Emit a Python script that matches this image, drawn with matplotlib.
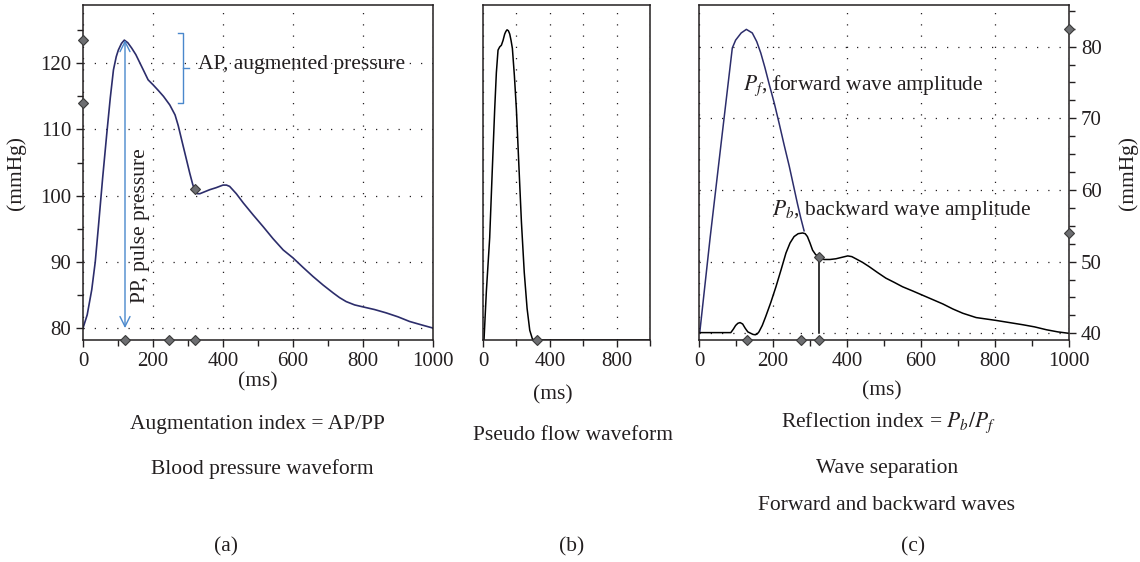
import matplotlib
matplotlib.use("Agg")
import matplotlib.pyplot as plt
from matplotlib.ticker import MultipleLocator, FixedLocator

plt.rcParams["font.family"] = ["Liberation Serif", "DejaVu Serif"]
plt.rcParams["mathtext.fontset"] = "stix"

# (a) blood pressure waveform, ms / mmHg
bp_t = [0, 12, 25, 35, 44, 56, 68, 78, 87, 95, 101, 110, 118, 128, 139, 151, 163,
        175, 186, 201, 215, 230, 248, 263, 272, 282, 294, 305, 313, 320, 327, 334,
        348, 362, 380, 400, 410, 419, 438, 458, 486, 515, 543, 572, 600, 628, 657,
        686, 715, 733, 752, 776, 800, 833, 866, 900, 933, 966, 1000]
bp_p = [80.0, 82.0, 85.8, 90.0, 95.3, 102.6, 109.4, 114.8, 119.0, 121.0, 122.0,
        123.0, 123.5, 123.1, 122.3, 121.3, 120.0, 118.7, 117.5, 116.7, 115.9, 115.0,
        113.7, 112.2, 110.6, 108.4, 105.8, 103.4, 101.8, 100.6, 100.3, 100.3, 100.6,
        100.9, 101.2, 101.6, 101.6, 101.4, 100.3, 98.9, 97.1, 95.3, 93.5, 91.8, 90.6,
        89.2, 87.8, 86.5, 85.3, 84.6, 84.0, 83.5, 83.2, 82.8, 82.3, 81.7, 81.0, 80.5,
        80.0]
bp_time_marks = [120, 245, 320]
bp_press_marks = [123.5, 114.0]
bp_notch = (320, 101.0)

# (b) pseudo flow waveform, ms / arbitrary units
flow_t = [0, 6, 20, 40, 55, 70, 80, 90, 100, 110, 120, 130, 137, 144, 152, 160,
          168, 176, 188, 200, 215, 230, 247, 264, 280, 296, 310, 324, 1000]
flow_q = [0.0, 0.0, 0.15, 0.317, 0.52, 0.716, 0.83, 0.90, 0.91, 0.915, 0.93, 0.95,
          0.958, 0.963, 0.96, 0.95, 0.93, 0.905, 0.82, 0.716, 0.54, 0.367, 0.21,
          0.098, 0.03, 0.003, 0.0, 0.0, 0.0]
flow_end = 322

# (c) wave separation, ms / mmHg
fwd_t = [2, 30, 60, 90, 99, 114, 128, 144, 156, 167, 178, 190, 204, 217, 230, 244,
         255, 266, 275, 284]
fwd_p = [40.1, 53.3, 66.6, 79.8, 80.9, 81.9, 82.4, 81.9, 80.7, 79.1, 77.1, 74.7,
         72.0, 69.2, 66.3, 63.3, 60.7, 58.1, 56.1, 54.3]
bwd_t = [0, 86, 93, 99, 105, 111, 118, 125, 132, 140, 146, 152, 157, 162, 171, 180,
         194, 208, 222, 235, 246, 257, 268, 280, 287, 293, 300, 307, 315, 323, 330,
         338, 354, 370, 386, 402, 413, 424, 442, 460, 482, 505, 528, 550, 578, 605,
         632, 659, 686, 713, 731, 749, 776, 803, 839, 875, 907, 939, 970, 1000]
bwd_p = [40.1, 40.1, 40.6, 41.1, 41.4, 41.5, 41.3, 40.7, 40.2, 40.0, 39.85, 39.8,
         39.9, 40.2, 41.1, 42.3, 44.3, 46.5, 48.9, 51.2, 52.6, 53.5, 53.9, 54.0, 53.9,
         53.5, 52.6, 51.6, 51.0, 50.7, 50.4, 50.3, 50.3, 50.4, 50.6, 50.8, 50.7, 50.4,
         49.9, 49.3, 48.5, 47.7, 47.1, 46.5, 45.9, 45.3, 44.7, 44.1, 43.4, 42.8, 42.5,
         42.2, 42.0, 41.8, 41.5, 41.2, 40.9, 40.5, 40.2, 40.0]
ws_time_marks = [131, 275, 323]
ws_press_marks = [82.4, 54.0]
ws_split = (323, 50.7)

W, H = 1140, 562
NAVY = "#2c2d6b"
BLUE = "#4a88cc"
INK = "#231f20"
DIAMOND = dict(marker="D", markersize=5.5, markerfacecolor="#6d6e71",
               markeredgecolor="#3a3a3a", markeredgewidth=0.8, linestyle="none",
               clip_on=False, zorder=5)
GRID = dict(color=INK, linestyle=(0, (1, 8)), linewidth=0.9)
FS = 15.5
TFS = 15

fig = plt.figure(figsize=(W / 100, H / 100), dpi=100)


def px_axes(x0, x1, y0, y1):
    return fig.add_axes([x0 / W, 1 - y1 / H, (x1 - x0) / W, (y1 - y0) / H])


def caption(x, y, s, **kw):
    fig.text(x / W, 1 - y / H, s, ha="center", va="center", fontsize=FS, color=INK, **kw)


def style(ax):
    for sp in ax.spines.values():
        sp.set_linewidth(1.1)
        sp.set_color(INK)
    ax.tick_params(which="both", direction="out", colors=INK, labelsize=TFS, width=1.0)
    ax.tick_params(which="major", length=5)
    ax.tick_params(which="minor", length=4)


# ---- (a)
ax = px_axes(83, 433, 5, 340)
style(ax)
ax.plot(bp_t, bp_p, color=NAVY, lw=1.2)
ax.set_xlim(0, 1000)
ax.set_ylim(78.2, 128.8)
ax.xaxis.set_major_locator(MultipleLocator(200))
ax.xaxis.set_minor_locator(MultipleLocator(100))
ax.yaxis.set_major_locator(MultipleLocator(10))
ax.yaxis.set_minor_locator(MultipleLocator(5))
ax.grid(True, which="major", **GRID)
ax.plot(bp_time_marks, [78.2] * len(bp_time_marks), **DIAMOND)
ax.plot([0] * len(bp_press_marks), bp_press_marks, **DIAMOND)
ax.plot(*bp_notch, **DIAMOND)
ax.annotate("", xy=(bp_time_marks[0], min(bp_p)), xytext=(bp_time_marks[0], max(bp_p)),
            arrowprops=dict(arrowstyle="<->", color=BLUE, lw=1.0, mutation_scale=18,
                            shrinkA=0, shrinkB=0))
ax.text(bp_time_marks[0] + 45, 95.5, "PP, pulse pressure", rotation=90, ha="center",
        va="center", fontsize=FS, color=INK)
top, bot = bp_press_marks[0] + 1.0, bp_press_marks[1]
bx = 286
ax.plot([bx - 14, bx, bx, bx - 14], [top, top, bot, bot], color=BLUE, lw=1.0)
ax.plot([bx, bx + 18], [(top + bot) / 2] * 2, color=BLUE, lw=1.0)
ax.text(bx + 44, 119.8, "AP, augmented pressure", ha="left", va="center",
        fontsize=FS, color=INK)
ax.set_ylabel("(mmHg)", fontsize=FS, color=INK, labelpad=10)
caption(258, 382, "(ms)")
caption(257, 425, "Augmentation index = AP/PP")
caption(262, 469, "Blood pressure waveform")
caption(226, 547, "(a)")

# ---- (b)
bx_ax = px_axes(483, 650, 5, 340)
style(bx_ax)
bx_ax.plot(flow_t, flow_q, color="black", lw=1.1)
bx_ax.set_xlim(0, 1000)
bx_ax.set_ylim(0, 1.04)
bx_ax.xaxis.set_major_locator(FixedLocator([0, 400, 800]))
bx_ax.xaxis.set_minor_locator(FixedLocator([200, 600, 1000]))
bx_ax.set_yticks([])
bx_ax.grid(True, which="both", axis="x", **GRID)
bx_ax.plot(flow_end, 0, **DIAMOND)
caption(553, 395, "(ms)")
caption(573, 435, "Pseudo flow waveform")
caption(572, 547, "(b)")

# ---- (c)
cx = px_axes(699, 1069, 5, 340)
style(cx)
cx.plot(fwd_t, fwd_p, color=NAVY, lw=1.1)
cx.plot(bwd_t, bwd_p, color="black", lw=1.1)
cx.plot([ws_split[0]] * 2, [40, ws_split[1]], color="black", lw=1.1)
cx.set_xlim(0, 1000)
cx.set_ylim(39.07, 85.8)
cx.yaxis.tick_right()
cx.yaxis.set_label_position("right")
cx.xaxis.set_major_locator(MultipleLocator(200))
cx.xaxis.set_minor_locator(MultipleLocator(100))
cx.yaxis.set_major_locator(MultipleLocator(10))
cx.yaxis.set_minor_locator(MultipleLocator(2.5))
cx.grid(True, which="major", **GRID)
cx.plot(ws_time_marks, [39.07] * len(ws_time_marks), **DIAMOND)
cx.plot([1000] * len(ws_press_marks), ws_press_marks, **DIAMOND)
cx.plot(*ws_split, **DIAMOND)
cx.text(119, 74.6, "$P_f$, forward wave amplitude", ha="left", va="center",
        fontsize=FS, color=INK)
cx.text(197, 57.2, "$P_b$, backward wave amplitude", ha="left", va="center",
        fontsize=FS, color=INK)
cx.set_ylabel("(mmHg)", fontsize=FS, color=INK, labelpad=12)
caption(882, 391, "(ms)")
caption(888, 423, "Reflection index = $P_b/P_f$")
caption(887, 468, "Wave separation")
caption(887, 506, "Forward and backward waves")
caption(913, 547, "(c)")

fig.savefig("out.png", dpi=100)
